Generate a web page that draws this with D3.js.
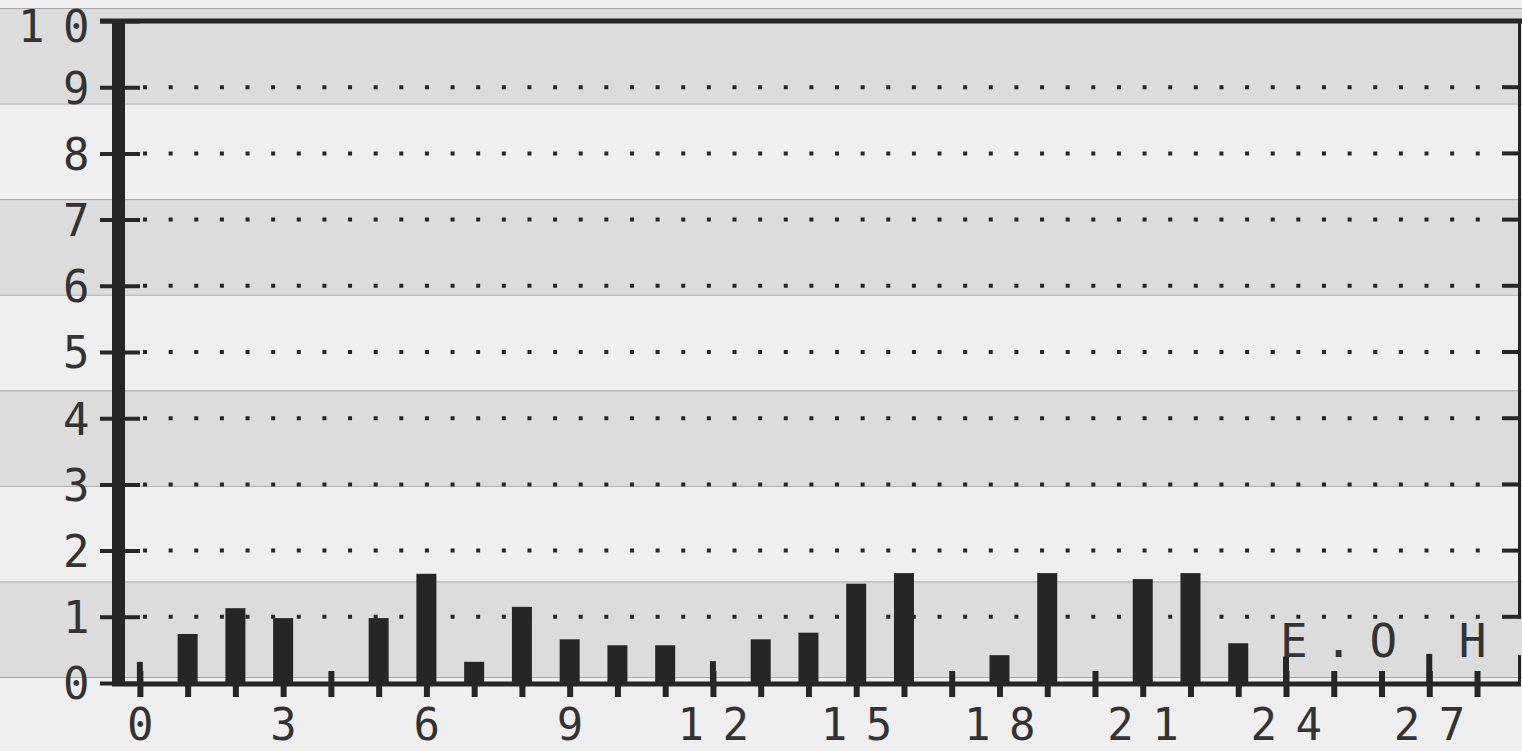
<!DOCTYPE html>
<html>
<head>
<meta charset="utf-8">
<script src="https://cdn.jsdelivr.net/npm/d3@7"></script>
<style>
  body { margin: 0; background: #efefef; }
  svg { display: block; }
  text { font-family: 'DejaVu Sans Mono', monospace; font-size: 46px; fill: #333; letter-spacing: 17px; }
  .x-axis text, .y-axis text { font-size: 44px; letter-spacing: 18.5px; }
</style>
</head>
<body>
<div id="chart"></div>
<script>
// categories along the bottom
const hours = [0, 1, 2, 3, 4, 5, 6, 7, 8, 9, 10, 11, 12, 13, 14, 15, 16, 17, 18, 19, 20, 21, 22, 23, 24, 25, 26, 27, 28]
// thick bars
const barValues = [0, 0.74, 1.13, 0.98, 0, 0.98, 1.65, 0.32, 1.15, 0.66, 0.57, 0.57, 0, 0.66, 0.76, 1.5, 1.66, 0, 0.42, 1.66, 0, 1.57, 1.66, 0.6, 0, 0, 0, 0, 0]
// thin marks
const thinValues = [0.32, 0, 0, 0, 0, 0, 0, 0, 0, 0, 0, 0, 0.33, 0, 0, 0, 0, 0, 0, 0, 0, 0, 0, 0, 0.4, 0, 0, 0.44, 0]
const yTicks = [0, 1, 2, 3, 4, 5, 6, 7, 8, 9, 10]
const xTickLabels = [0, 3, 6, 9, 12, 15, 18, 21, 24, 27]
const note = 'E.O H'
const noteAt = 24

const W = 1522
const H = 751
const ink = '#262626'

const svg = d3.select('#chart')
  .append('svg')
  .attr('width', W)
  .attr('height', H)

const x = d3.scaleLinear().domain([-0.5, 28.9]).range([116, 1520])
const y = d3.scaleLinear().domain([0, 10]).range([683, 21])

// paper bands (green-bar style)
const bandY = d3.scaleLinear().domain([0, 7]).range([8, 677])
const bands = d3.range(0, 8, 2)
svg.append('rect').attr('width', W).attr('height', H).attr('fill', '#efefef')
svg.append('g')
  .selectAll('rect')
  .data(bands)
  .enter()
  .append('rect')
  .attr('x', 0)
  .attr('y', (d) => bandY(d))
  .attr('width', W)
  .attr('height', (d) => bandY(d + 1) - bandY(d))
  .attr('fill', '#dcdcdc')
svg.append('g')
  .selectAll('line')
  .data(d3.range(0, 8))
  .enter()
  .append('line')
  .attr('x1', 0)
  .attr('x2', W)
  .attr('y1', (d) => bandY(d) + 0.5)
  .attr('y2', (d) => bandY(d) + 0.5)
  .attr('stroke', '#a8a8a8')
  .attr('stroke-width', 1)

// dotted grid
const grid = svg.append('g')
grid.selectAll('line.dots')
  .data(yTicks.filter((d) => d > 0 && d < 10))
  .enter()
  .append('line')
  .attr('class', 'dots')
  .attr('x1', 143)
  .attr('x2', 1482)
  .attr('y1', (d) => y(d))
  .attr('y2', (d) => y(d))
  .attr('stroke', ink)
  .attr('stroke-width', 4)
  .attr('stroke-dasharray', '4 21.63')
grid.selectAll('line.rtick')
  .data(yTicks.filter((d) => d > 0 && d < 10))
  .enter()
  .append('line')
  .attr('class', 'rtick')
  .attr('x1', 1502)
  .attr('x2', 1521)
  .attr('y1', (d) => y(d))
  .attr('y2', (d) => y(d))
  .attr('stroke', ink)
  .attr('stroke-width', 4)

// right border, broken where the note row was printed
const rightSegs = [[10, 1], [0.42, 0]]
svg.append('g')
  .selectAll('line')
  .data(rightSegs)
  .enter()
  .append('line')
  .attr('x1', 1519.5)
  .attr('x2', 1519.5)
  .attr('y1', (d) => y(d[0]))
  .attr('y2', (d) => y(d[1]) + 2)
  .attr('stroke', ink)
  .attr('stroke-width', 3)

// x axis ticks + labels
const xAxis = svg.append('g')
  .attr('class', 'x-axis')
  .attr('transform', `translate(0, ${y(0) + 1})`)
  .call(d3.axisBottom(x)
    .tickValues(hours)
    .tickSize(13)
    .tickPadding(11)
    .tickFormat((d) => (xTickLabels.includes(d) ? d : '')))
xAxis.select('.domain').remove()
xAxis.attr('font-size', null).attr('font-family', null)
xAxis.selectAll('.tick line')
  .attr('y1', -13)
  .attr('stroke', ink)
  .attr('stroke-width', 6)
xAxis.selectAll('.tick text')
  .attr('dx', 9)
  .attr('dy', null)
  .attr('y', 56)
  .attr('fill', null)

// thin marks
svg.append('g')
  .selectAll('line')
  .data(hours.filter((h, i) => thinValues[i] > 0))
  .enter()
  .append('line')
  .attr('x1', (d) => x(d))
  .attr('x2', (d) => x(d))
  .attr('y1', (d) => y(thinValues[d]))
  .attr('y2', y(0))
  .attr('stroke', ink)
  .attr('stroke-width', 6)

// bars
svg.append('g')
  .selectAll('rect')
  .data(hours.filter((h, i) => barValues[i] > 0))
  .enter()
  .append('rect')
  .attr('x', (d) => x(d) - 10)
  .attr('y', (d) => y(barValues[d]))
  .attr('width', 20)
  .attr('height', (d) => y(0) - y(barValues[d]))
  .attr('fill', ink)

// y axis ticks + labels
const yAxis = svg.append('g')
  .attr('class', 'y-axis')
  .attr('transform', 'translate(140, 0)')
  .call(d3.axisLeft(y)
    .tickValues(yTicks)
    .tickSize(40)
    .tickPadding(-8))
yAxis.select('.domain').remove()
yAxis.attr('font-size', null).attr('font-family', null)
yAxis.selectAll('.tick line')
  .attr('stroke', ink)
  .attr('stroke-width', 4)
yAxis.selectAll('.tick text')
  .attr('fill', null)
  .attr('dy', (d) => (d === 10 ? '20px' : '0.36em'))

// frame: top line, thick left axis, base line
svg.append('line')
  .attr('x1', 100).attr('x2', W)
  .attr('y1', y(10)).attr('y2', y(10))
  .attr('stroke', ink).attr('stroke-width', 5)
svg.append('line')
  .attr('x1', 118.5).attr('x2', 118.5)
  .attr('y1', y(10) - 2).attr('y2', y(0) + 3)
  .attr('stroke', ink).attr('stroke-width', 13)
svg.append('line')
  .attr('x1', 112).attr('x2', 1521)
  .attr('y1', y(0) + 1).attr('y2', y(0) + 1)
  .attr('stroke', ink).attr('stroke-width', 5)

// printed note
svg.append('text')
  .attr('x', x(noteAt) - 6)
  .attr('y', 657)
  .text(note)
</script>
</body>
</html>
